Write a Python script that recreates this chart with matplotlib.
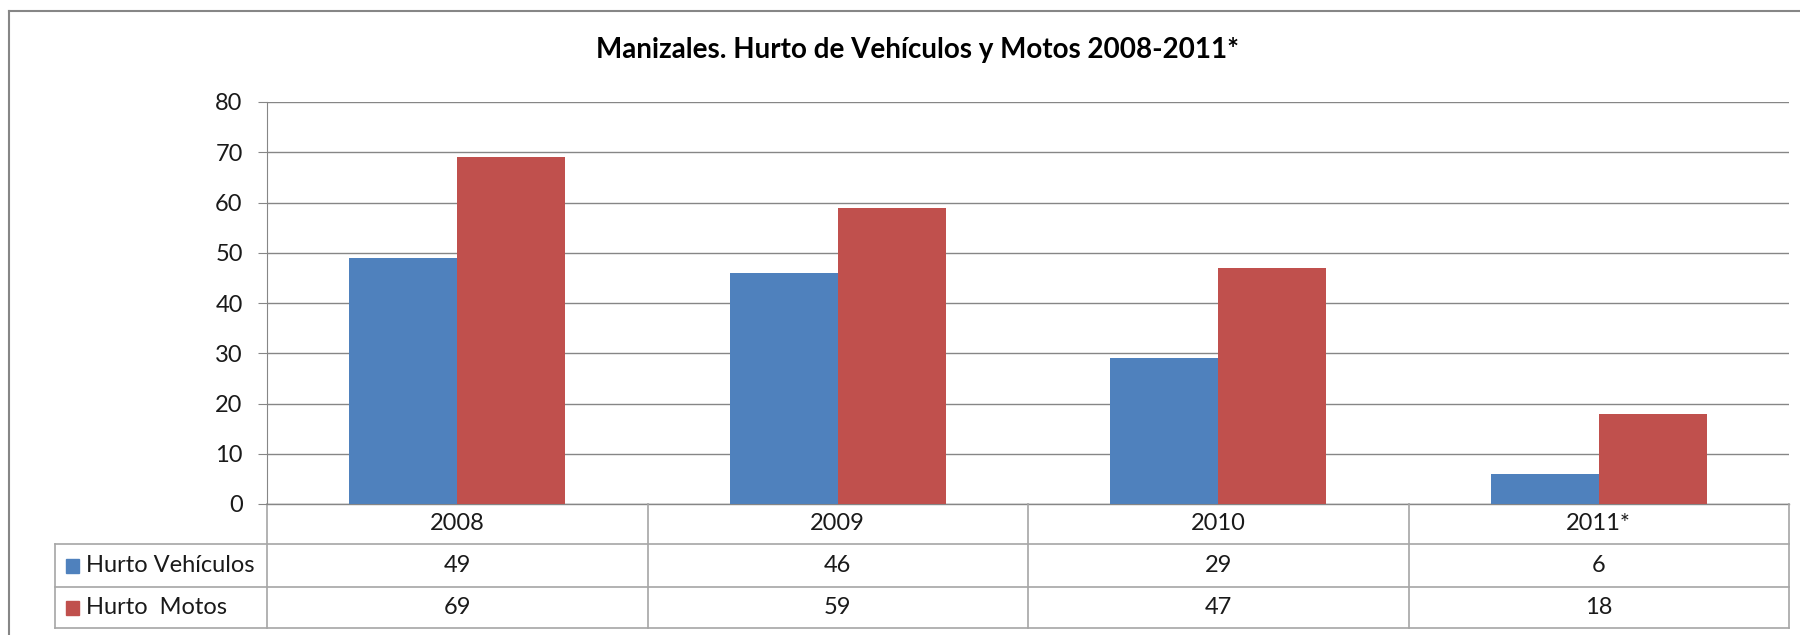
import numpy as np
import matplotlib
matplotlib.use("Agg")
import matplotlib.pyplot as plt
from matplotlib.patches import Rectangle

plt.rcParams['font.family'] = ['Lato', 'DejaVu Sans']

years = ['2008', '2009', '2010', '2011*']
vehiculos = [49, 46, 29, 6]
motos = [69, 59, 47, 18]
series_names = ['Hurto Vehículos', 'Hurto  Motos']
colors = ['#4F81BD', '#C0504D']
grid_col = '#868686'
table_col = '#A6A6A6'
text_col = '#1a1a1a'

W, H = 1800, 635
fig = plt.figure(figsize=(W / 100, H / 100), dpi=100)

# pixel overlay for the border and the data table
ov = fig.add_axes([0, 0, 1, 1], zorder=0)
ov.set_xlim(0, W)
ov.set_ylim(H, 0)
ov.axis('off')

# plot area in pixels
x0, x1 = 267, 1789
y_top, y0 = 102, 504
row_y = [504, 544, 587, 628]
leg_x = 55

ax = fig.add_axes([x0 / W, (H - y0) / H, (x1 - x0) / W, (y0 - y_top) / H], zorder=2)
ax.patch.set_alpha(0)

x = np.arange(len(years))
w = 0.284
ax.bar(x - w / 2, vehiculos, w, color=colors[0], zorder=3)
ax.bar(x + w / 2, motos, w, color=colors[1], zorder=3)

ax.set_xlim(-0.5, len(years) - 0.5)
ax.set_ylim(0, 80)
ax.set_yticks(range(0, 81, 10))
ax.yaxis.grid(True, color=grid_col, lw=1)
ax.set_axisbelow(True)
ax.set_xticks([])
for s in ['top', 'right', 'bottom']:
    ax.spines[s].set_visible(False)
ax.spines['left'].set_color(grid_col)
ax.tick_params(axis='y', direction='out', length=6.5, color=grid_col,
               labelsize=17, labelcolor=text_col, pad=11)

# outer chart border
ov.plot([9, 9], [11, H], color=grid_col, lw=1.5)
ov.plot([9, W], [11, 11], color=grid_col, lw=1.5)

# table grid
col_x = np.linspace(x0, x1, len(years) + 1)
ov.plot([x0, x1], [row_y[0], row_y[0]], color=grid_col, lw=1)
for yy in row_y[1:]:
    ov.plot([leg_x, x1], [yy, yy], color=table_col, lw=1.2)
for cx in col_x:
    ov.plot([cx, cx], [row_y[0], row_y[-1]], color=table_col, lw=1.2)
ov.plot([leg_x, leg_x], [row_y[1], row_y[-1]], color=table_col, lw=1.2)

centers = (col_x[:-1] + col_x[1:]) / 2
for cx, yr in zip(centers, years):
    ov.text(cx, (row_y[0] + row_y[1]) / 2, yr, ha='center', va='center',
            fontsize=17, color=text_col)
for r, (name, vals, c) in enumerate(zip(series_names, [vehiculos, motos], colors)):
    ym = (row_y[r + 1] + row_y[r + 2]) / 2
    ov.add_patch(Rectangle((66, ym - 7), 13, 14, color=c))
    ov.text(86, ym, name, ha='left', va='center', fontsize=17, color=text_col)
    for cx, v in zip(centers, vals):
        ov.text(cx, ym, str(v), ha='center', va='center', fontsize=17, color=text_col)

fig.text(917 / W, 1 - 50 / H, 'Manizales. Hurto de Vehículos y Motos 2008-2011*',
         ha='center', va='center', fontsize=20, fontweight='bold', color='#000000')

fig.savefig('out.png', dpi=100, facecolor='white')
